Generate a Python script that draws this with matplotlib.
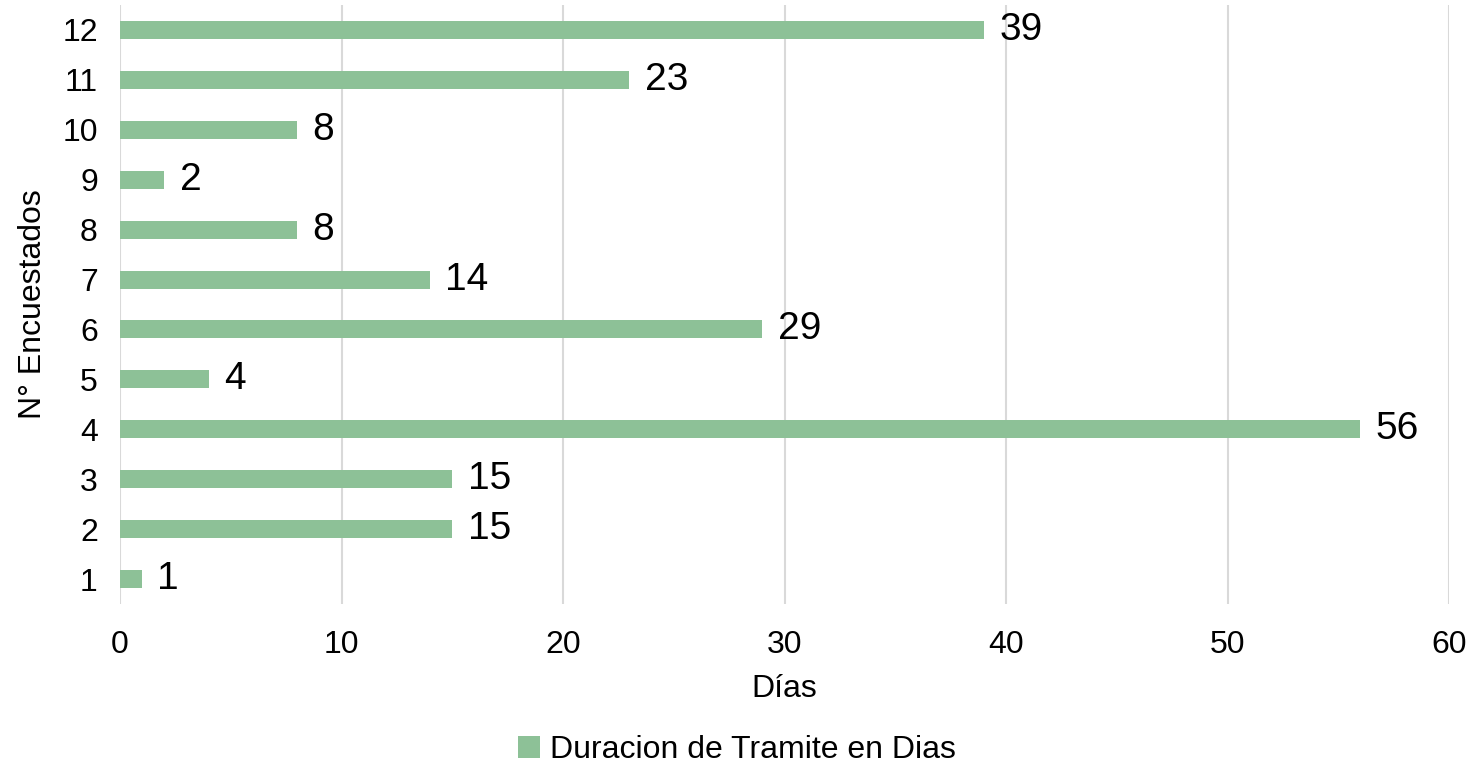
import matplotlib
matplotlib.use('Agg')
import matplotlib.pyplot as plt

plt.rcParams['font.family'] = ['Liberation Sans', 'DejaVu Sans']

# data
encuestados = [1, 2, 3, 4, 5, 6, 7, 8, 9, 10, 11, 12]
dias = [1, 15, 15, 56, 4, 29, 14, 8, 2, 8, 23, 39]
serie_label = 'Duracion de Tramite en Dias'
x_ticks = [0, 10, 20, 30, 40, 50, 60]

bar_color = '#8dc197'

fig = plt.figure(figsize=(14.73, 7.71), dpi=100)
ax = fig.add_axes([0.0815, 0.2166, 0.9022, 0.7769])

bars = ax.barh(encuestados, dias, height=0.36, color=bar_color, label=serie_label, zorder=3)
ax.bar_label(bars, labels=[str(v) for v in dias], padding=11, fontsize=28, color='black')

ax.set_xlim(0, 60)
ax.set_ylim(0.5, 12.5)
ax.set_xticks(x_ticks)
ax.set_yticks(encuestados)
ax.tick_params(axis='x', length=0, pad=19, labelsize=23, colors='black')
ax.tick_params(axis='y', length=0, pad=16, labelsize=23, colors='black')

ax.grid(axis='x', color='#d9d9d9', linewidth=1.5, zorder=0)
for s in ax.spines.values():
    s.set_visible(False)

ax.set_xlabel('Días', fontsize=23, labelpad=10)
ax.set_ylabel('N° Encuestados', fontsize=23, labelpad=10)

fig.legend(loc='center', bbox_to_anchor=(0.5, 0.027), frameon=False, fontsize=23,
           handlelength=0.7, handleheight=0.7, handletextpad=0.3)

fig.savefig('out.png', dpi=100)
